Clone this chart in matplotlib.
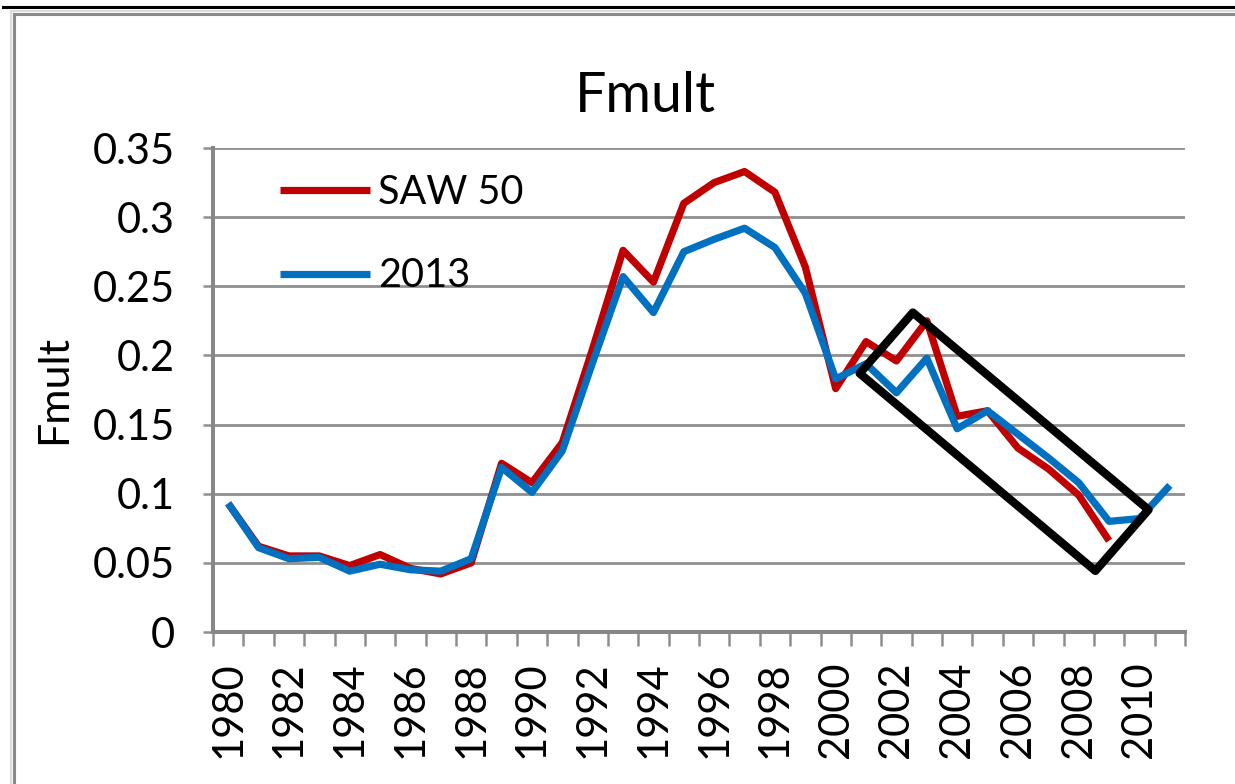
import matplotlib
matplotlib.use("Agg")
import matplotlib.pyplot as plt
import numpy as np
from matplotlib.lines import Line2D
from matplotlib.patches import Polygon

plt.rcParams['font.family'] = ['Lato', 'DejaVu Sans']

# ---- data ----
years = list(range(1980, 2012))
saw50 = [0.093, 0.062, 0.055, 0.055, 0.048, 0.056, 0.046, 0.042, 0.050, 0.122,
         0.108, 0.137, 0.205, 0.276, 0.253, 0.310, 0.325, 0.333, 0.318, 0.264,
         0.176, 0.210, 0.196, 0.225, 0.156, 0.160, 0.133, 0.118, 0.099, 0.066,
         np.nan, np.nan]
fmult2013 = [0.093, 0.061, 0.053, 0.054, 0.044, 0.049, 0.045, 0.044, 0.053, 0.119,
             0.101, 0.131, 0.195, 0.257, 0.231, 0.275, 0.284, 0.292, 0.278, 0.245,
             0.183, 0.194, 0.173, 0.198, 0.147, 0.160, 0.143, 0.126, 0.108, 0.080,
             0.082, 0.106]
series_labels = ['SAW 50', '2013']
ytick_values = [0, 0.05, 0.1, 0.15, 0.2, 0.25, 0.3, 0.35]
ytick_labels = ['0', '0.05', '0.1', '0.15', '0.2', '0.25', '0.3', '0.35']
xtick_labels = [str(y) for y in years[::2]]
title = 'Fmult'
ylabel = 'Fmult'
# highlight box (annotation), in (category index, value)
box_corners = [(20.79, 0.187), (22.54, 0.231), (30.30, 0.0884), (28.55, 0.0442)]

RED = '#C00000'
BLUE = '#0070C0'
GRID = '#8f8f8f'

W, H = 1235, 784
fig = plt.figure(figsize=(W / 100, H / 100), dpi=100)
ax = fig.add_axes([213 / W, (H - 632) / H, 972 / W, 484 / H])

x = np.arange(len(years))
ax.plot(x, saw50, color=RED, lw=5.2, label=series_labels[0],
        solid_joinstyle='round', solid_capstyle='butt', zorder=3)
ax.plot(x, fmult2013, color=BLUE, lw=5.2, label=series_labels[1],
        solid_joinstyle='round', solid_capstyle='butt', zorder=4)

ax.add_patch(Polygon(box_corners, closed=True, fill=False, edgecolor='black',
                     lw=6, joinstyle='round', zorder=5))

ax.set_xlim(-0.5, len(years) - 0.5)
ax.set_ylim(0, 0.35)

ax.set_yticks(ytick_values)
ax.set_yticklabels(ytick_labels)
ax.set_xticks(x[::2])
ax.set_xticklabels(xtick_labels, rotation=90)
ax.set_xticks(np.arange(-0.5, len(years) + 0.5, 1), minor=True)

ax.tick_params(axis='y', which='major', length=7.2, width=1.8, color=GRID,
               labelsize=30, pad=20)
ax.tick_params(axis='x', which='major', length=0, labelsize=30, pad=21)
ax.tick_params(axis='x', which='minor', length=10, width=1.8, color=GRID)

ax.yaxis.grid(True, color=GRID, lw=2.0, zorder=1)
ax.set_axisbelow(True)

for s in ['top', 'right']:
    ax.spines[s].set_visible(False)
for s in ['left', 'bottom']:
    ax.spines[s].set_color('#878787')
    ax.spines[s].set_linewidth(2.9)

ax.set_ylabel(ylabel, fontsize=31, labelpad=14)

fig.text(645 / W, 1 - 112 / H, title, ha='center', va='baseline', fontsize=40)

ax.legend(loc='upper left', bbox_to_anchor=(0.069, 0.947), frameon=False,
          fontsize=28.5, handlelength=2.27, handletextpad=0.2, labelspacing=1.18,
          borderpad=0, borderaxespad=0)

# chart frame decorations
fig.add_artist(Line2D([3 / W, 1], [1 - 7.2 / H] * 2, transform=fig.transFigure,
                      color='black', lw=2.2))
fig.add_artist(Line2D([11 / W, 1], [1 - 11 / H] * 2, transform=fig.transFigure,
                      color='#dcdcdc', lw=1.5))
fig.add_artist(Line2D([11 / W, 11 / W], [0, 1 - 11 / H], transform=fig.transFigure,
                      color='#dcdcdc', lw=1.5))
fig.add_artist(Line2D([13.8 / W, 1], [1 - 13.5 / H] * 2, transform=fig.transFigure,
                      color='#8a8a8a', lw=2.2))
fig.add_artist(Line2D([13.8 / W, 13.8 / W], [0, 1 - 13.5 / H], transform=fig.transFigure,
                      color='#8a8a8a', lw=2.2))

fig.savefig('out.png', dpi=100)
